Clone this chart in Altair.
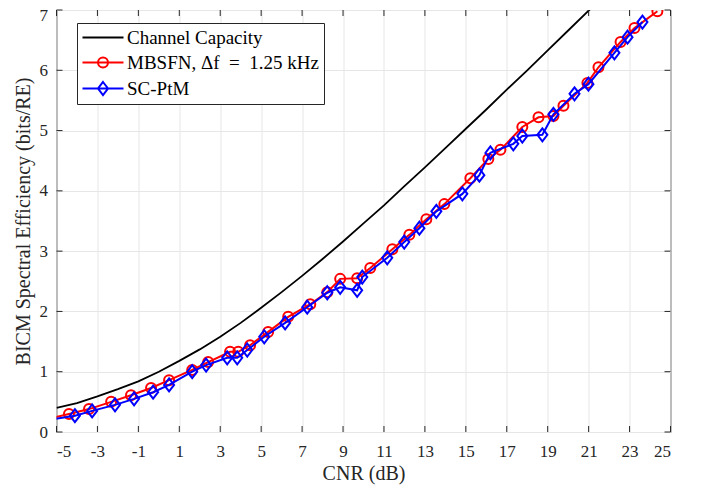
import altair as alt
import pandas as pd

# ---------------- data ----------------
cap_x = [-5, -4, -3, -2, -1, 0, 1, 2, 3, 4, 5, 6, 7, 8, 9, 10, 11, 12, 13,
         14, 15, 16, 17, 18, 19, 20, 21, 22]
cap_y = [0.40, 0.48, 0.59, 0.71, 0.84, 1.00, 1.18, 1.37, 1.58, 1.81, 2.06,
         2.32, 2.59, 2.87, 3.16, 3.46, 3.76, 4.08, 4.39, 4.71, 5.03, 5.35,
         5.68, 6.00, 6.33, 6.66, 6.99, 7.32]

mb_x = [-5.6, -4.39, -3.41, -2.33, -1.36, -0.38, 0.50, 1.63, 2.41, 3.48, 3.88,
        4.46, 5.34, 6.32, 7.40, 8.23, 8.86, 9.69, 10.33, 11.41, 12.24, 13.07,
        13.95, 15.22, 16.10, 16.69, 17.76, 18.55, 19.28, 19.77, 20.94, 21.48,
        22.56, 23.24, 24.36]
mb_y = [0.20, 0.30, 0.38, 0.50, 0.61, 0.73, 0.86, 1.03, 1.16, 1.33, 1.33,
        1.44, 1.66, 1.91, 2.12, 2.32, 2.54, 2.55, 2.72, 3.03, 3.27, 3.53,
        3.78, 4.21, 4.53, 4.68, 5.06, 5.22, 5.24, 5.41, 5.79, 6.05,
        6.47, 6.70, 6.98]

sc_x = [-5.6, -4.10, -3.26, -2.14, -1.21, -0.28, 0.50, 1.63, 2.31, 3.34, 3.83,
        4.32, 5.15, 6.17, 7.25, 8.23, 8.86, 9.69, 9.94, 11.16, 11.99, 12.73,
        13.56, 14.83, 15.66, 16.20, 17.32, 17.76, 18.74, 19.28, 20.31, 20.99,
        22.26, 22.90, 23.63]
sc_y = [0.19, 0.27, 0.35, 0.45, 0.55, 0.66, 0.78, 1.00, 1.11, 1.23, 1.23,
        1.36, 1.58, 1.81, 2.07, 2.31, 2.40, 2.35, 2.57, 2.89, 3.15, 3.38,
        3.66, 3.95, 4.26, 4.63, 4.78, 4.91, 4.93, 5.27, 5.61, 5.77,
        6.29, 6.55, 6.80]

series_names = ["Channel Capacity", "MBSFN, \u0394f\u2002=\u20021.25 kHz", "SC-PtM"]
series_colors = ["#000000", "#ff0000", "#0000ff"]

x_ticks = [-5, -3, -1, 1, 3, 5, 7, 9, 11, 13, 15, 17, 19, 21, 23, 25]
y_ticks = [0, 1, 2, 3, 4, 5, 6, 7]

x_title = "CNR (dB)"
y_title = "BICM Spectral Efficiency (bits/RE)"

# ---------------- styling ----------------
W, H = 614, 422
FONT = "Liberation Serif"
AXC = "#262626"

circle_path = "circle"
diamond_path = "M0,-1.3L1,0L0,1.3L-1,0Z"
legend_paths = [
    "M-1.8,0L6.4,0",
    "M-1.8,0L6.4,0M3.3,0A1,1,0,1,1,1.3,0A1,1,0,1,1,3.3,0",
    "M-1.8,0L6.4,0M2.3,-1.3L3.3,0L2.3,1.3L1.3,0Z",
]

cap_df = pd.DataFrame({"x": cap_x, "y": cap_y})
mb_df = pd.DataFrame({"x": mb_x, "y": mb_y})
sc_df = pd.DataFrame({"x": sc_x, "y": sc_y})
xt_df = pd.DataFrame({"x": x_ticks})
yt_df = pd.DataFrame({"y": y_ticks})
leg_df = pd.DataFrame({"x": [-20] * 3, "y": [1] * 3, "series": series_names})

xscale = alt.Scale(domain=[-5, 25], nice=False, zero=False)
yscale = alt.Scale(domain=[0, 7], nice=False, zero=False)

xaxis = alt.Axis(values=x_ticks, title=x_title, labelExpr="datum.value + ''",
                 labelPadding=11, titlePadding=4, grid=True, ticks=False,
                 domain=False)
yaxis = alt.Axis(values=y_ticks, title=y_title, labelExpr="datum.value + ''",
                 labelPadding=9, titlePadding=6, grid=True, ticks=False,
                 domain=False,
                 labelOffset={"condition": {"test": "datum.value == 7",
                                            "value": 5},
                              "value": 0})

X = alt.X("x:Q", scale=xscale, axis=xaxis)
Y = alt.Y("y:Q", scale=yscale, axis=yaxis)

cap_line = alt.Chart(cap_df).mark_line(color="black", strokeWidth=1.8,
                                       clip=True).encode(x=X, y=Y)
mb_line = alt.Chart(mb_df).mark_line(color="#ff0000", strokeWidth=2,
                                     clip=True).encode(x=X, y=Y)
mb_pts = alt.Chart(mb_df).mark_point(shape=circle_path, size=100, filled=False,
                                     color="#ff0000", strokeWidth=2,
                                     opacity=1, clip=True).encode(x=X, y=Y)
sc_line = alt.Chart(sc_df).mark_line(color="#0000ff", strokeWidth=2,
                                     clip=True).encode(x=X, y=Y)
sc_pts = alt.Chart(sc_df).mark_point(shape=diamond_path, size=100, filled=False,
                                     color="#0000ff", strokeWidth=2,
                                     opacity=1, clip=True).encode(x=X, y=Y)

# inward tick marks on all four sides
tick_len = 6
tb = alt.Chart(xt_df).mark_rule(color=AXC, strokeWidth=1).encode(
    x=X, y=alt.value(H), y2=alt.value(H - tick_len))
tt = alt.Chart(xt_df).mark_rule(color=AXC, strokeWidth=1).encode(
    x=X, y=alt.value(0), y2=alt.value(tick_len))
tl = alt.Chart(yt_df).mark_rule(color=AXC, strokeWidth=1).encode(
    y=Y, x=alt.value(0), x2=alt.value(tick_len))
tr = alt.Chart(yt_df).mark_rule(color=AXC, strokeWidth=1).encode(
    y=Y, x=alt.value(W), x2=alt.value(W - tick_len))

legend = alt.Legend(title=None, orient="none", legendX=20.5, legendY=13,
                    padding=5, rowPadding=5, strokeColor=AXC, fillColor="white",
                    labelFont=FONT, labelFontSize=19, labelColor="black",
                    labelLimit=400, labelOffset=26, symbolSize=100,
                    symbolStrokeWidth=2, symbolFillColor="transparent",
                    symbolOpacity=1, cornerRadius=0)

leg = alt.Chart(leg_df).mark_point(filled=False, strokeWidth=2, clip=True).encode(
    x=X, y=Y,
    color=alt.Color("series:N", scale=alt.Scale(domain=series_names,
                                                 range=series_colors),
                    legend=legend),
    shape=alt.Shape("series:N", scale=alt.Scale(domain=series_names,
                                                 range=legend_paths),
                    legend=legend),
)

chart = alt.layer(
    cap_line, mb_line, mb_pts, sc_line, sc_pts, tb, tt, tl, tr, leg
).properties(
    width=W, height=H,
    autosize=alt.AutoSizeParams(type="none"),
    padding={"left": 48.5, "top": 2, "right": 20, "bottom": 58},
    background="white",
).configure_view(
    stroke=AXC, strokeWidth=1
).configure_axis(
    labelFont=FONT, labelFontSize=17, labelColor=AXC,
    titleFont=FONT, titleFontSize=20, titleColor=AXC, titleFontWeight="normal",
    gridColor="#e6e6e6", gridWidth=1, gridOpacity=1,
)

chart.save("out.html", embed_options={"renderer": "svg", "actions": False})
